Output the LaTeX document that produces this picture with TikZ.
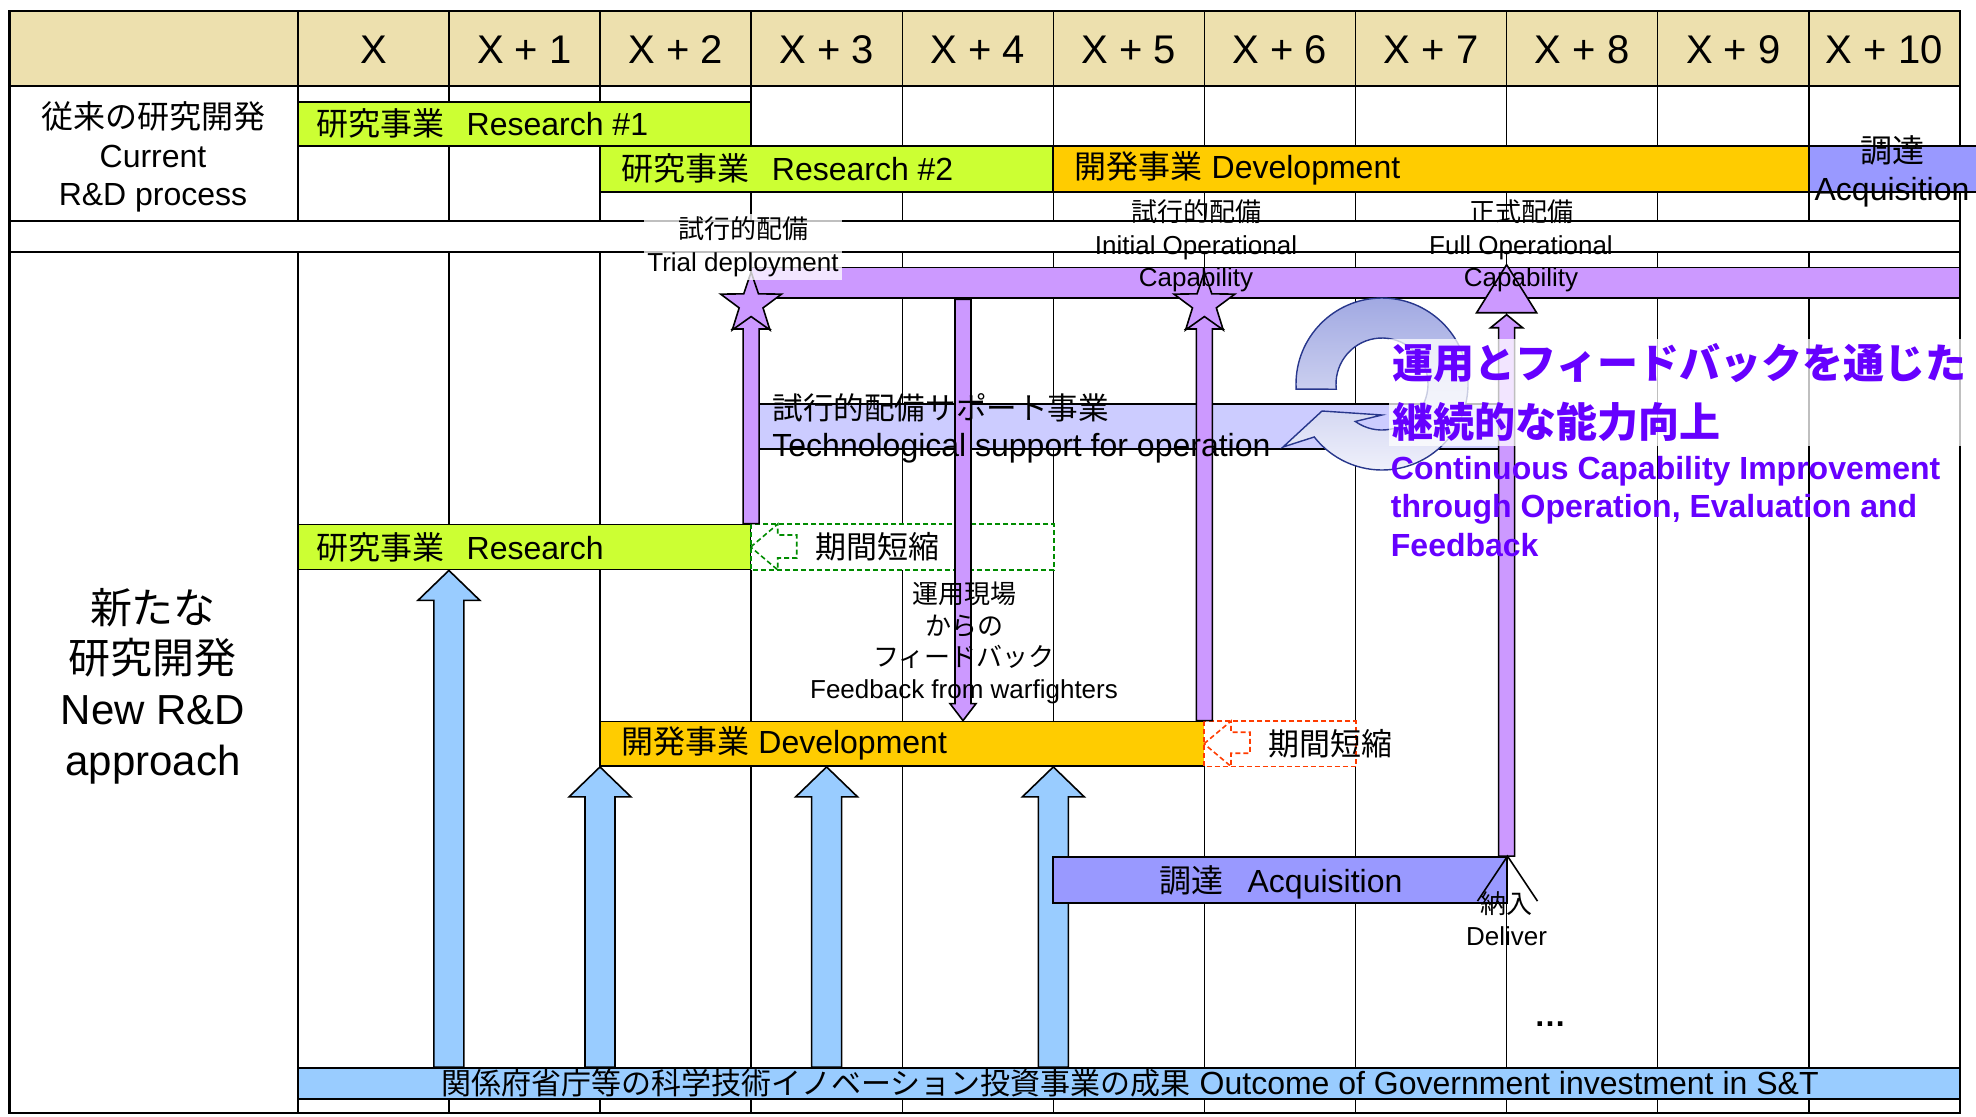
\documentclass[tikz,border=0pt]{standalone}
\usepackage{fontspec}
\setmainfont{Liberation Sans}
\newfontfamily\jp{Noto Sans CJK JP}
\usetikzlibrary{calc,fit,shapes.geometric}
\definecolor{chdr}{RGB}{237,224,174}
\definecolor{cgreen}{RGB}{204,255,51}
\definecolor{corange}{RGB}{255,204,0}
\definecolor{cacq}{RGB}{153,153,255}
\definecolor{cpurple}{RGB}{204,153,255}
\definecolor{cblue}{RGB}{153,204,255}
\definecolor{ctech}{RGB}{204,204,255}
\definecolor{cviolet}{RGB}{102,0,255}
\definecolor{cdgreen}{RGB}{0,140,0}
\definecolor{cred}{RGB}{255,60,0}
\definecolor{carcline}{RGB}{40,55,140}
\definecolor{carctop}{RGB}{160,168,226}
\definecolor{carcbot}{RGB}{240,241,251}
\newcommand\blockarr[6]{\draw[#1] ($#2+(-#4,0)$) -- ($#3+(-#4,#6)$) -- ($#3+(-#5,#6)$) -- #3 -- ($#3+(#5,#6)$) -- ($#3+(#4,#6)$) -- ($#2+(#4,0)$) -- cycle;}
\tikzset{
  grid/.style={line width=0.7pt},
  frame/.style={line width=1.2pt},
  bar/.style={draw=black, line width=0.9pt, inner sep=0pt, rectangle},
  btxt/.style={font=\fontsize{16}{19}\selectfont, inner sep=0pt},
  hfont/.style={font=\fontsize{20}{24}\selectfont, inner sep=0pt},
  lbl/.style={font=\fontsize{13}{16.2}\selectfont, align=center, inner sep=0pt},
  halo/.style={fill=white, fill opacity=0.75, text opacity=1},
  bluearr/.style={draw=black, line width=0.8pt, fill=cblue},
  purarr/.style={draw=black, line width=0.8pt, fill=cpurple},
  gdash/.style={draw=cdgreen, dash pattern=on 2.5pt off 1.5pt, line width=0.8pt},
  rdash/.style={draw=cred, dash pattern=on 2.5pt off 1.5pt, line width=0.8pt},
  starsh/.style={star, star points=5, star point ratio=2.55, minimum size=32pt, inner sep=0pt, draw=black, line width=0.8pt, fill=cpurple},
}
\begin{document}
\begin{tikzpicture}[x=0.5pt,y=-0.5pt]
\useasboundingbox (0,0) rectangle (1976,1116);
% header and grid
\fill[chdr] (9.6,11) rectangle (1959.9,86);
\foreach \i in {0,...,10} {
  \draw[grid] ({297.8+151.1*\i},11) -- ({297.8+151.1*\i},221);
  \draw[grid] ({297.8+151.1*\i},252) -- ({297.8+151.1*\i},1113);
}
\foreach \i in {0,...,11} \coordinate (L\i) at ({297.8+151.1*\i},0);
\draw[grid] (9.6,86) -- (1959.9,86);
\draw[grid] (9.6,221) -- (1959.9,221);
\draw[grid] (9.6,252) -- (1959.9,252);
\draw[frame] (9.6,11) rectangle (1959.9,1113);
\foreach \i/\t in {0/X,1/X + 1,2/X + 2,3/X + 3,4/X + 4,5/X + 5,6/X + 6,7/X + 7,8/X + 8,9/X + 9,10/X + 10}
  \node[hfont] (h\i) at ({297.8+151.1*(\i+0.5)},50) {\t};

% left labels
\node[font=\fontsize{16}{19.3}\selectfont, align=center, inner sep=0pt] (cur) at (153,157) {{\jp 従来の研究開発}\\Current\\R\&D process};
\node[font=\fontsize{21}{25.4}\selectfont, align=center, inner sep=0pt] (newrd) at (153,686) {{\jp 新たな}\\{\jp 研究開発}\\New R\&D\\approach};

% upper bars
\node[bar, fill=cgreen, fit={(297.8,101.7)(751.1,146)}] (r1) {};
\node[btxt, anchor=west] (r1t) at ($(r1.west)+(19,0)$) {{\jp 研究事業}\hspace{0.7em}Research \#1};
\node[bar, fill=cgreen, fit={(600,146)(1053.3,191.7)}] (r2) {};
\node[btxt, anchor=west] (r2t) at ($(r2.west)+(22,0)$) {{\jp 研究事業}\hspace{0.7em}Research \#2};
\node[bar, fill=corange, fit={(1053.3,146)(1808.8,191.7)}] (d1) {};
\node[btxt, anchor=west] (d1t) at ($(d1.west)+(22,0)$) {{\jp 開発事業} Development};
\node[bar, fill=cacq, fit={(1808.8,146)(1995,191.7)}] (a1) {};
\node[btxt, align=center, font=\fontsize{16}{19}\selectfont] (a1t) at (1892,171) {{\jp 調達}\\Acquisition};

% lower section boxes
\node[bar, fill=ctech, fit={(759,404)(1506.6,449)}] (tech) {};
\coordinate (M3) at (826.6,0);
\coordinate (F) at (963,0);
\node[bar, fill=cblue, fit={(297.8,1068)(1959.9,1099)}] (out) {};
\node[bar, fill=cgreen, fit={(297.8,524.5)(751.1,569.5)}] (res) {};
\node[bar, fill=corange, fit={(600,721.5)(1204.4,766)}] (dev) {};
\node[inner sep=0pt, fit={(751.1,524.5)(1053.3,569.5)}] (gbox) {};
\node[inner sep=0pt, fit={(1204.4,721.5)(1355.5,766)}] (rbox) {};

% blue up arrows
\blockarr{bluearr}{(out.north -| L1)}{(res.south -| L1)}{15}{31}{30}
\blockarr{bluearr}{(out.north -| L2)}{(dev.south -| L2)}{15}{31}{30}
\blockarr{bluearr}{(out.north -| M3)}{(dev.south -| M3)}{15}{31}{30}
\blockarr{bluearr}{(out.north -| L5)}{(dev.south -| L5)}{15}{31}{30}

\node[bar, fill=cacq, fit={(1053.3,857)(1506.6,903)}] (acq) {};
\node[btxt, anchor=center] (acqt) at (1281,882) {{\jp 調達}\hspace{0.75em}Acquisition};

% dashed boxes with arrows
\draw[gdash, fill=white] (gbox.north west) rectangle (gbox.south east);
\draw[gdash] (gbox.west) -- ($(gbox.north west)+(27,0)$) -- ($(gbox.west)+(27,-12)$) -- ($(gbox.west)+(46,-12)$) -- ($(gbox.west)+(46,11)$) -- ($(gbox.west)+(27,11)$) -- ($(gbox.south west)+(27,0)$) -- cycle;
\draw[rdash, fill=white] (rbox.north west) rectangle (rbox.south east);
\draw[rdash] (rbox.west) -- ($(rbox.north west)+(27,0)$) -- ($(rbox.west)+(27,-11.5)$) -- ($(rbox.west)+(46,-11.5)$) -- ($(rbox.west)+(46,9.5)$) -- ($(rbox.west)+(27,9.5)$) -- ($(rbox.south west)+(27,0)$) -- cycle;
\node[font=\fontsize{15.5}{18}\selectfont\jp, inner sep=0pt] (gtxt) at (877.5,547) {期間短縮};
\node[font=\fontsize{15.5}{18}\selectfont\jp, inner sep=0pt] (rtxt) at (1330,744) {期間短縮};

% capability bar, stars, purple arrows
\node[bar, fill=cpurple, fit={(751.1,267.5)(1959.9,298.3)}] (cap) {};
\coordinate (tri) at (1506.6,312.7);
\draw[purarr] ($(tri)+(-30,0)$) -- ($(tri)+(0,-48)$) -- ($(tri)+(30,0)$) -- cycle;
\blockarr{purarr}{(res.north -| L3)}{(751.1,313)}{8}{18.5}{16}
\blockarr{purarr}{(dev.north -| L6)}{(1204.4,313)}{8}{18.5}{16}
\blockarr{purarr}{(acq.north -| L8)}{($(tri)+(0,2)$)}{8}{16}{13}
\blockarr{purarr}{(cap.south -| F)}{(dev.north -| F)}{8}{13}{-17}
\node[starsh] (s1) at (751.1,304) {};
\node[starsh] (s2) at (1204.4,304) {};
\draw[line width=0.8pt] ($(acq.north east)+(-30,45)$) -- (acq.north east) -- ($(acq.north east)+(30,45)$);

% curved arrow
\coordinate (C) at (1382,384);
\coordinate (T) at (1283,447);
\coordinate (P1) at (1322,411);
\coordinate (Wi) at (1382,415);
\draw[draw=carcline, line width=0.7pt, top color=carctop, bottom color=carcbot]
  ($(C)+(176.6:86)$) arc[start angle=176.6, end angle=502, radius=86] -- (T) -- (P1) -- (Wi)
  -- ($(C)+(485.5:46)$) arc[start angle=485.5, end angle=173.5, radius=46] -- cycle;

% texts
\node[btxt, anchor=west] (rest) at ($(res.west)+(19,0)$) {{\jp 研究事業}\hspace{0.7em}Research};
\node[btxt, anchor=west] (devt) at ($(dev.west)+(22,0)$) {{\jp 開発事業} Development};
\node[font=\fontsize{16}{18.5}\selectfont, align=left, inner sep=0pt, anchor=west] (techt) at (772,428.5) {{\jp\fontsize{15.3}{18.5}\selectfont 試行的配備サポート事業}\\Technological support for operation};
\node[lbl, halo, inner sep=1.5pt, font=\fontsize{13}{16.5}\selectfont] (tl1) at (743,247) {{\jp 試行的配備}\\Trial deployment};
\node[lbl] (tl2) at (1196,246) {{\jp 試行的配備}\\Initial Operational\\Capability};
\node[lbl] (tl3) at (1521,246) {{\jp 正式配備}\\Full Operational\\Capability};
\node[lbl, font=\fontsize{13}{15.8}\selectfont] (fb) at (964,643) {{\jp 運用現場}\\{\jp からの}\\{\jp フィードバック}\\Feedback from warfighters};
\node[lbl, font=\fontsize{13}{16}\selectfont] (dl) at (1506.6,919) {{\jp 納入}\\Deliver};
\node[font=\fontsize{16}{19}\selectfont\bfseries, inner sep=0pt] (dots) at (1550,1024) {\dots};
\node[font=\fontsize{20.5}{29.5}\selectfont\jp\bfseries, text=cviolet, align=left, halo, inner sep=2pt, anchor=west] (ct1) at (1388.5,392.5) {運用とフィードバックを通じた\\継続的な能力向上};
\node[font=\fontsize{16}{19.25}\selectfont\bfseries, text=cviolet, align=left, inner sep=0pt, anchor=west] (ct2) at (1390.5,506.5) {Continuous Capability Improvement\\through Operation, Evaluation and\\Feedback};
\node[btxt] (outt) at (1130,1083) {{\fontsize{15}{18}\selectfont\jp 関係府省庁等の科学技術イノベーション投資事業の成果} Outcome of Government investment in S\&T};
\end{tikzpicture}
\end{document}
